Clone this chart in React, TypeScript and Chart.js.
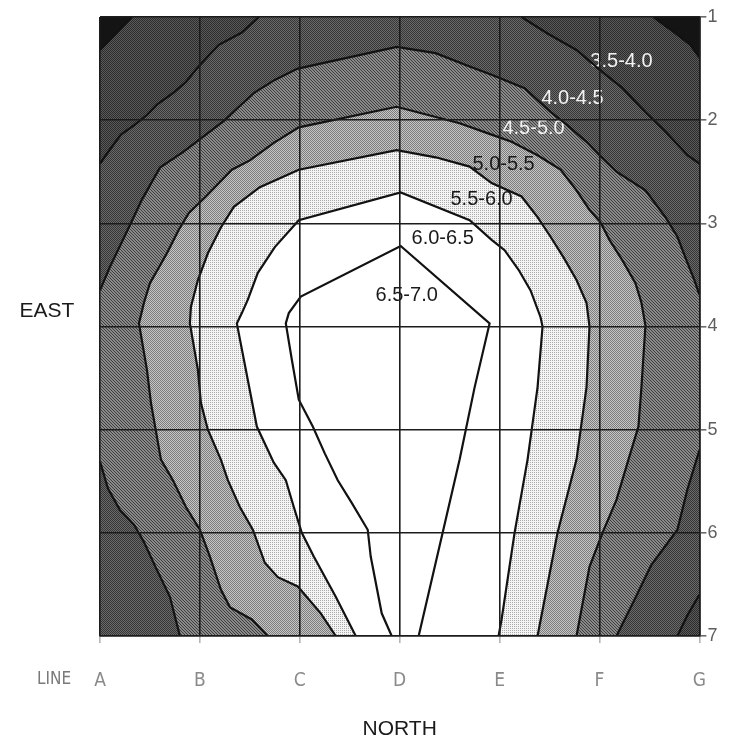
import { useEffect, useRef } from 'react';
import { Chart, registerables } from 'chart.js';

Chart.register(...registerables);

// Survey grid: lines A–G along the north axis, stations 1–7 along the east axis
const LINES = ['A', 'B', 'C', 'D', 'E', 'F', 'G'];
const STATIONS = [1, 2, 3, 4, 5, 6, 7];

// Value bands, lowest to highest
const BANDS = ['3.5-4.0', '4.0-4.5', '4.5-5.0', '5.0-5.5', '5.5-6.0', '6.0-6.5', '6.5-7.0'];
// Where each band name is written, in grid units (line index, station)
const BAND_LABEL_X = [5.22, 4.73, 4.34, 4.04, 3.82, 3.43, 3.07];
const BAND_LABEL_Y = [1.43, 1.79, 2.08, 2.43, 2.77, 3.15, 3.7];

type P = [number, number]; // [line index (A = 0), station]

// Isolines, one or more pieces per level
const ISO_35_W: P[] = [[0.32, 1.0], [0.17, 1.15], [0, 1.32]];
const ISO_35_E: P[] = [[5.54, 1.0], [5.75, 1.15], [5.91, 1.27], [6, 1.39]];

const ISO_40_W: P[] = [
  [1.59, 1.0], [1.42, 1.15], [1.19, 1.27], [1.09, 1.37], [0.96, 1.51], [0.86, 1.63], [0.74, 1.73],
  [0.57, 1.85], [0.47, 1.95], [0.34, 2.05], [0.21, 2.14], [0.11, 2.27], [0, 2.42],
];
const ISO_40_NE: P[] = [
  [4.22, 1.0], [4.48, 1.16], [4.77, 1.32], [5.0, 1.51], [5.23, 1.69], [5.46, 1.92], [5.66, 2.11],
  [5.88, 2.34], [6, 2.42],
];
const ISO_40_SE: P[] = [[6, 6.6], [5.88, 6.8], [5.78, 7.0]];

const ISO_45_N: P[] = [
  [0, 3.65], [0.1, 3.42], [0.23, 3.16], [0.42, 2.77], [0.6, 2.46], [0.83, 2.31], [1.06, 2.14],
  [1.25, 2.0], [1.38, 1.88], [1.55, 1.73], [1.75, 1.61], [1.98, 1.5], [2.97, 1.29], [3.36, 1.35],
  [3.7, 1.48], [3.92, 1.56], [4.25, 1.69], [4.51, 1.92], [4.68, 2.05], [4.87, 2.21], [5.0, 2.34],
  [5.17, 2.5], [5.46, 2.68], [5.66, 2.94], [5.78, 3.13], [5.88, 3.38], [5.95, 3.55], [6, 3.69],
];
const ISO_45_SE: P[] = [[6, 5.2], [5.88, 5.58], [5.78, 5.97], [5.52, 6.31], [5.36, 6.63], [5.17, 7.0]];
const ISO_45_SW: P[] = [
  [0, 5.31], [0.08, 5.57], [0.2, 5.78], [0.34, 5.92], [0.44, 6.09], [0.56, 6.34], [0.7, 6.62], [0.8, 7.0],
];

const ISO_50: P[] = [
  [1.68, 7.0], [1.52, 6.84], [1.3, 6.72], [1.21, 6.55], [1.1, 6.23], [1.0, 5.97], [0.86, 5.75],
  [0.73, 5.49], [0.61, 5.29], [0.51, 4.74], [0.47, 4.42], [0.39, 3.97], [0.44, 3.77], [0.5, 3.58],
  [0.67, 3.29], [0.79, 3.06], [0.89, 2.9], [1.06, 2.74], [1.32, 2.48], [1.5, 2.39], [1.74, 2.22],
  [1.99, 2.07], [2.97, 1.87], [3.6, 2.03], [3.92, 2.14], [4.12, 2.21], [4.38, 2.34], [4.61, 2.48],
  [4.77, 2.68], [4.9, 2.87], [5.01, 2.99], [5.1, 3.16], [5.23, 3.36], [5.36, 3.58], [5.42, 3.77],
  [5.46, 3.99], [5.42, 4.59], [5.39, 4.97], [5.29, 5.29], [5.17, 5.68], [5.03, 6.0], [4.9, 6.33],
  [4.77, 7.0],
];
const ISO_55: P[] = [
  [2.36, 7.0], [2.21, 6.78], [1.98, 6.52], [1.78, 6.43], [1.65, 6.29], [1.53, 5.97], [1.4, 5.75],
  [1.28, 5.49], [1.21, 5.29], [1.08, 5.0], [1.01, 4.74], [0.98, 4.42], [0.9, 3.97], [0.91, 3.81],
  [0.98, 3.55], [1.08, 3.29], [1.21, 3.04], [1.34, 2.84], [1.6, 2.65], [1.99, 2.48], [2.97, 2.29],
  [3.36, 2.36], [3.7, 2.45], [3.92, 2.61], [4.22, 2.74], [4.38, 2.94], [4.51, 3.13], [4.64, 3.33],
  [4.77, 3.55], [4.87, 3.77], [4.9, 4.0], [4.87, 4.59], [4.77, 5.29], [4.58, 6.0], [4.38, 7.0],
];
const ISO_60: P[] = [
  [2.56, 7.0], [2.36, 6.62], [2.14, 6.23], [2.02, 6.0], [1.94, 5.75], [1.86, 5.49], [1.74, 5.32],
  [1.57, 4.97], [1.44, 4.32], [1.37, 3.97], [1.42, 3.87], [1.48, 3.74], [1.58, 3.48], [1.75, 3.23],
  [1.99, 2.97], [3.01, 2.7], [3.7, 2.97], [3.92, 3.16], [4.05, 3.26], [4.19, 3.45], [4.31, 3.65],
  [4.41, 3.91], [4.43, 4.0], [4.38, 4.59], [4.28, 5.29], [4.15, 6.0], [4.02, 6.84], [3.99, 7.0],
];
const ISO_65: P[] = [
  [2.92, 7.0], [2.82, 6.78], [2.71, 6.23], [2.68, 5.97], [2.52, 5.71], [2.38, 5.49], [2.25, 5.23],
  [2.13, 4.97], [1.99, 4.71], [1.92, 4.32], [1.86, 3.97], [1.89, 3.87], [2.01, 3.71], [3.01, 3.22],
  [3.9, 3.97], [3.75, 4.59], [3.6, 5.29], [3.43, 6.0], [3.19, 7.0],
];

// Grid extent
const X_MIN = 0;
const X_MAX = LINES.length - 1;
const Y_MIN = STATIONS[0];
const Y_MAX = STATIONS[STATIONS.length - 1];

const rev = (pts: P[]): P[] => [...pts].reverse();

// Areas at or above each level, closed along the grid edge
const REGIONS: P[][] = [
  [...rev(ISO_35_W), ...ISO_35_E, [X_MAX, Y_MAX], [X_MIN, Y_MAX]],
  [...rev(ISO_40_W), ...ISO_40_NE, ...ISO_40_SE, [X_MIN, Y_MAX]],
  [...ISO_45_N, ...ISO_45_SE, ...rev(ISO_45_SW)],
  ISO_50,
  ISO_55,
  ISO_60,
  ISO_65,
];
const ISOLINES: P[][] = [
  ISO_35_W, ISO_35_E, ISO_40_W, ISO_40_NE, ISO_40_SE, ISO_45_N, ISO_45_SE, ISO_45_SW,
  ISO_50, ISO_55, ISO_60, ISO_65,
];

// Small repeating textures for the band shading
function texture(rows: string[][]): CanvasPattern | string {
  const c = document.createElement('canvas');
  c.height = rows.length;
  c.width = rows[0].length;
  const g = c.getContext('2d')!;
  rows.forEach((row, j) => row.forEach((col, i) => {
    g.fillStyle = col;
    g.fillRect(i, j, 1, 1);
  }));
  return g.createPattern(c, 'repeat') || rows[0][0];
}

function bandFills(): (CanvasPattern | string)[] {
  const d = '#2c2c2c', l = '#5a5a5a';
  const d2 = '#363636', l2 = '#6a6a6a';
  const h1 = '#3e3e3e', h2 = '#8a8a8a';
  const s1 = '#7c7c7c', s2 = '#c6c6c6';
  const w = '#f4f4f4', p = '#ababab';
  return [
    texture([[d, l], [l, d]]),
    texture([[d2, l2], [l2, d2]]),
    texture([[h1, h2, h2], [h2, h1, h2], [h2, h2, h1]]),
    texture([[s1, s2], [s2, s1]]),
    texture([[p, w], [w, w]]),
    '#ffffff',
    '#ffffff',
  ];
}

const TEXT_FONT = "'Liberation Sans', Arial, sans-serif";
const NARROW_FONT = "'Liberation Sans Narrow', 'Arial Narrow', 'DejaVu Sans Condensed', 'Liberation Sans', sans-serif";

const contourText = {
  id: 'contourText',
  beforeDatasetsDraw(chart: Chart) {
    const { ctx, chartArea: a } = chart;
    ctx.save();
    ctx.fillStyle = '#141414';
    ctx.fillRect(a.left, a.top, a.right - a.left, a.bottom - a.top);
    ctx.restore();
  },
  afterDatasetDraw(chart: Chart, args: { index: number }) {
    if (chart.data.datasets[args.index].label !== 'band ' + BANDS[BANDS.length - 1]) return;
    const { ctx } = chart;
    const xs = chart.scales.x;
    const ys = chart.scales.y;
    ctx.save();
    ctx.font = `20px ${TEXT_FONT}`;
    ctx.textAlign = 'center';
    ctx.textBaseline = 'middle';
    BANDS.forEach((name, i) => {
      ctx.fillStyle = i < 3 ? '#f2f2f2' : '#1a1a1a';
      ctx.fillText(name, xs.getPixelForValue(BAND_LABEL_X[i]), ys.getPixelForValue(BAND_LABEL_Y[i]));
    });
    ctx.restore();
  },
  afterDraw(chart: Chart) {
    const { ctx, chartArea: a } = chart;
    ctx.save();
    ctx.textAlign = 'center';
    ctx.textBaseline = 'middle';
    ctx.fillStyle = '#1a1a1a';
    ctx.font = `21px ${TEXT_FONT}`;
    ctx.fillText('EAST', a.left - 53, (a.top + a.bottom) / 2 - 15);
    ctx.fillText('NORTH', (a.left + a.right) / 2, a.bottom + 93);
    ctx.fillStyle = '#7a7a7a';
    ctx.font = `17px ${NARROW_FONT}`;
    ctx.fillText('LINE', a.left - 46, a.bottom + 44);
    ctx.restore();
  },
};

export default function App() {
  const ref = useRef<HTMLCanvasElement>(null);

  useEffect(() => {
    const prevMargin = document.body.style.margin;
    document.body.style.margin = '0';
    const fills = bandFills();

    const regionSets = REGIONS.map((pts, i) => ({
      type: 'scatter' as const,
      label: 'band ' + BANDS[i],
      data: pts.map(([x, y]) => ({ x, y })),
      showLine: true,
      fill: 'shape' as const,
      backgroundColor: fills[i],
      borderColor: 'rgba(0,0,0,0)',
      borderWidth: 0,
      pointRadius: 0,
      pointHoverRadius: 0,
      tension: 0,
      order: 20 - i,
    }));
    const lineSets = ISOLINES.map((pts, i) => ({
      type: 'scatter' as const,
      label: 'isoline ' + i,
      data: pts.map(([x, y]) => ({ x, y })),
      showLine: true,
      fill: false,
      borderColor: '#121212',
      borderWidth: 2.2,
      pointRadius: 0,
      pointHoverRadius: 0,
      tension: 0,
      order: 0,
    }));

    const chart = new Chart(ref.current!, {
      type: 'scatter',
      data: { datasets: [...regionSets, ...lineSets] as any },
      options: {
        responsive: false,
        animation: false,
        events: [],
        layout: { padding: { left: 100, top: 17, right: 0, bottom: 0 } },
        plugins: { legend: { display: false }, tooltip: { enabled: false } },
        scales: {
          x: {
            type: 'linear',
            position: 'bottom',
            min: X_MIN,
            max: X_MAX,
            afterFit: (s: any) => { s.height = 108; },
            ticks: {
              stepSize: 1,
              autoSkip: false,
              maxRotation: 0,
              padding: 27,
              color: '#8a8a8a',
              font: { family: NARROW_FONT, size: 19 },
              callback: (v: any) => LINES[Number(v)] ?? '',
            },
            grid: { z: 1, color: '#1c1c1c', lineWidth: 1.6, tickColor: '#b4b4b4', tickLength: 7 },
            border: { z: 1, color: '#1c1c1c', width: 1.6 },
          },
          y: {
            type: 'linear',
            position: 'right',
            min: Y_MIN,
            max: Y_MAX,
            reverse: true,
            afterFit: (s: any) => { s.width = 21; },
            ticks: {
              stepSize: 1,
              autoSkip: false,
              padding: 1,
              color: '#5e5e5e',
              font: { family: TEXT_FONT, size: 18 },
              callback: (v: any) => (STATIONS.includes(Number(v)) ? String(v) : ''),
            },
            grid: { z: 1, color: '#1c1c1c', lineWidth: 1.6, tickColor: '#6a6a6a', tickLength: 7 },
            border: { z: 1, color: '#1c1c1c', width: 1.6 },
          },
        },
      },
      plugins: [contourText],
    });

    return () => {
      chart.destroy();
      document.body.style.margin = prevMargin;
    };
  }, []);

  return (
    <div style={{ width: 733, height: 744 }}>
      <canvas ref={ref} width={733} height={744} style={{ display: 'block' }} />
    </div>
  );
}
